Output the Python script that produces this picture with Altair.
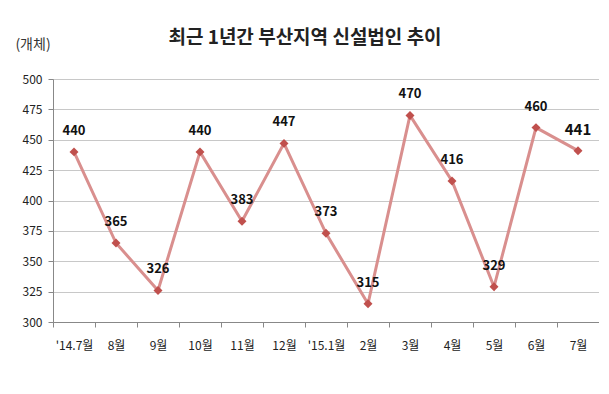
import altair as alt
import pandas as pd

months = ["'14.7월", "8월", "9월", "10월", "11월", "12월", "'15.1월", "2월", "3월", "4월", "5월", "6월", "7월"]
values = [440, 365, 326, 440, 383, 447, 373, 315, 470, 416, 329, 460, 441]
label_sizes = [13, 13, 13, 13, 13, 13, 13, 13, 13, 13, 13, 13, 15]
title_text = "최근 1년간 부산지역 신설법인 추이"
unit_text = "(개체)"

df = pd.DataFrame({"month": months, "value": values, "lsize": label_sizes, "order": list(range(len(months)))})

FONT = "Noto Sans CJK KR"

x = alt.X("month:N", sort=months, title=None,
          scale=alt.Scale(paddingInner=0, paddingOuter=0),
          axis=alt.Axis(labelAngle=0, labelFont=FONT, labelFontSize=12, labelColor="#222222",
                        tickBand="extent", ticks=True, tickSize=5, tickColor="#888888",
                        domainColor="#888888", labelPadding=13, grid=False))
y = alt.Y("value:Q", title=None,
          scale=alt.Scale(domain=[300, 500], nice=False, zero=False),
          axis=alt.Axis(values=list(range(300, 501, 25)), labelFont=FONT, labelFontSize=12,
                        labelColor="#222222", tickSize=5, tickColor="#888888",
                        domainColor="#888888", gridColor="#c8c8c8", labelPadding=6))

base = alt.Chart(df).encode(x=x, y=y)

line = base.mark_line(color="#d98f8e", strokeWidth=3).encode(order="order:Q")
pts = base.mark_point(shape="diamond", filled=True, color="#c0504d", size=80, opacity=1)
labels = base.mark_text(dy=-21, fontWeight="bold", font=FONT, color="#111111").encode(
    text="value:Q", size=alt.Size("lsize:Q", scale=None, legend=None))
unit = alt.Chart(pd.DataFrame({"t": [unit_text]})).mark_text(
    font=FONT, fontSize=14, color="#333333", align="center", baseline="middle"
).encode(text="t:N", x=alt.value(-20), y=alt.value(-34))
title = alt.Chart(pd.DataFrame({"t": [title_text]})).mark_text(
    font=FONT, fontSize=19, fontWeight="bold", color="#222222", align="center", baseline="middle"
).encode(text="t:N", x=alt.value(252), y=alt.value(-41))

chart = (line + pts + labels + unit + title).properties(
    width=546, height=243,
    autosize=alt.AutoSizeParams(type="none"),
    padding={"left": 45, "top": 71, "right": 0, "bottom": 50},
).configure_view(stroke=None).configure(background="white")

chart.save("out.html", embed_options={"renderer": "svg", "actions": False})
